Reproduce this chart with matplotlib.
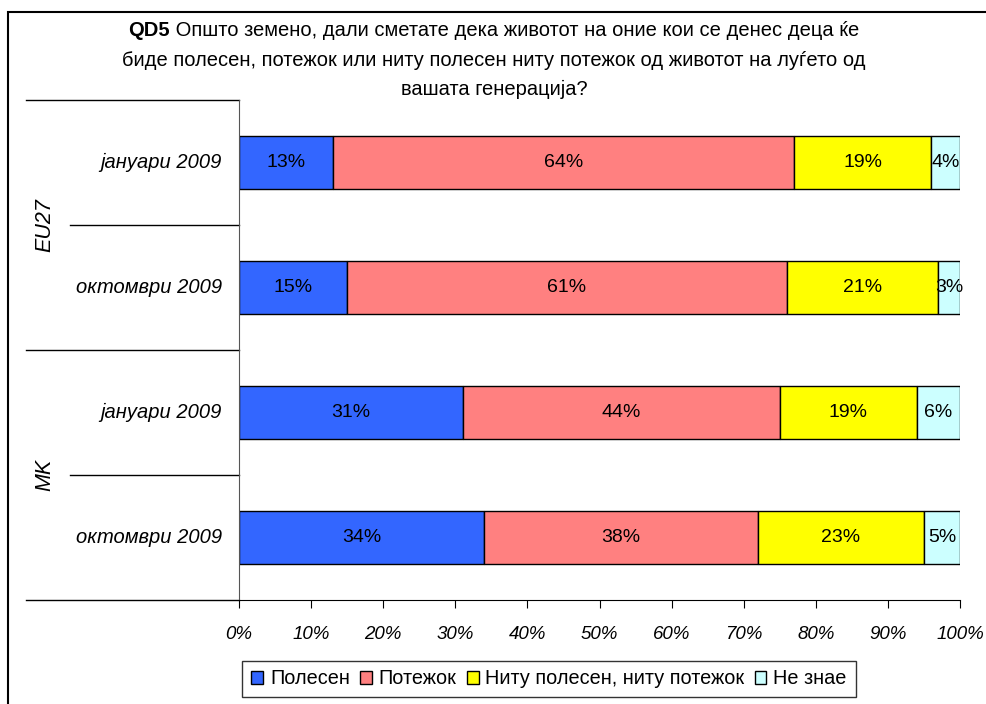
import matplotlib
matplotlib.use("Agg")
import matplotlib.pyplot as plt
import matplotlib.transforms as mtransforms
from matplotlib.patches import Rectangle, Patch
from matplotlib.lines import Line2D
import numpy as np

plt.rcParams["font.family"] = ["Liberation Sans", "DejaVu Sans"]

# data
groups = ["EU27", "MK"]
periods = ["јануари 2009", "октомври 2009", "јануари 2009", "октомври 2009"]
series = ["Полесен", "Потежок", "Ниту полесен, ниту потежок", "Не знае"]
better = [13, 15, 31, 34]
worse = [64, 61, 44, 38]
same = [19, 21, 19, 23]
dont_know = [4, 3, 6, 5]
colors = ["#3366FF", "#FF8080", "#FFFF00", "#CCFFFF"]

title_bold = "QD5"
title_lines = [
    " Општо земено, дали сметате дека животот на оние кои се денес деца ќе",
    "биде полесен, потежок или ниту полесен ниту потежок од животот на луѓето од",
    "вашата генерација?",
]

W, H = 986, 704
fig = plt.figure(figsize=(W / 100, H / 100), dpi=100)
ax = fig.add_axes([239 / W, 1 - 600 / H, 721 / W, 500 / H])

n = len(periods)
ypos = np.arange(n)[::-1] + 0.5
values = np.array([better, worse, same, dont_know]) / 100.0
left = np.zeros(n)
for vals, col, name in zip(values, colors, series):
    ax.barh(ypos, vals, left=left, height=0.42, color=col,
            edgecolor="black", linewidth=1.0, label=name)
    for y, l, v in zip(ypos, left, vals):
        ax.text(l + v / 2, y, f"{round(v * 100)}%", ha="center", va="center",
                fontsize=14)
    left = left + vals

ax.set_xlim(0, 1)
ax.set_ylim(0, n)
ax.set_xticks(np.linspace(0, 1, 11))
ax.set_xticklabels([f"{int(t * 100)}%" for t in np.linspace(0, 1, 11)],
                   fontsize=13.5, style="italic")
ax.tick_params(axis="x", direction="out", length=6, pad=13, color="black")
ax.set_yticks([])
for s in ["top", "right"]:
    ax.spines[s].set_visible(False)
ax.spines["left"].set_color("#555555")

# category labels and group separators
trans = mtransforms.blended_transform_factory(fig.transFigure, ax.transData)
for y, p in zip(ypos, periods):
    ax.text(222 / W, y, p, transform=trans, ha="right", va="center",
            fontsize=14.5, style="italic")
for i, g in enumerate(groups):
    ax.text(45 / W, n - 2 * i - 1, g, transform=trans, ha="center",
            va="center", rotation=90, fontsize=15.5, style="italic")
for y in range(n + 1):
    x0 = 26 / W if y % 2 == 0 else 70 / W
    ax.add_line(Line2D([x0, 239 / W], [y, y], transform=trans, color="black",
                       linewidth=1.0, clip_on=False))

# title
fig.canvas.draw()
r = fig.canvas.get_renderer()
tb = fig.text(0, 1 - 31 / H, title_bold, fontsize=14.5, fontweight="bold",
              va="center", ha="left")
tn = fig.text(0, 1 - 31 / H, title_lines[0], fontsize=14.5, va="center",
              ha="left")
wb = tb.get_window_extent(r).width
wn = tn.get_window_extent(r).width
x0 = 494 - (wb + wn) / 2
tb.set_x(x0 / W)
tn.set_x((x0 + wb) / W)
fig.text(494 / W, 1 - 60 / H, title_lines[1], fontsize=14.5, ha="center",
         va="center")
fig.text(494 / W, 1 - 89 / H, title_lines[2], fontsize=14.5, ha="center",
         va="center")

# legend
handles = [Patch(facecolor=c, edgecolor="black", linewidth=1.0) for c in colors]
leg = fig.legend(handles, series, loc="center", ncol=4,
                 bbox_to_anchor=(549 / W, 1 - 679 / H), fontsize=14.3,
                 frameon=True, fancybox=False, edgecolor="black",
                 handlelength=0.6, handleheight=0.6, handletextpad=0.35,
                 columnspacing=0.5, borderpad=0.45)
leg.get_frame().set_linewidth(1.0)

# outer frame
fig.add_artist(Rectangle((8 / W, -0.05), 1.1, 1 - 12 / H + 0.05,
                         transform=fig.transFigure, fill=False,
                         edgecolor="black", linewidth=1.5, clip_on=False))

fig.savefig("out.png", dpi=100)
